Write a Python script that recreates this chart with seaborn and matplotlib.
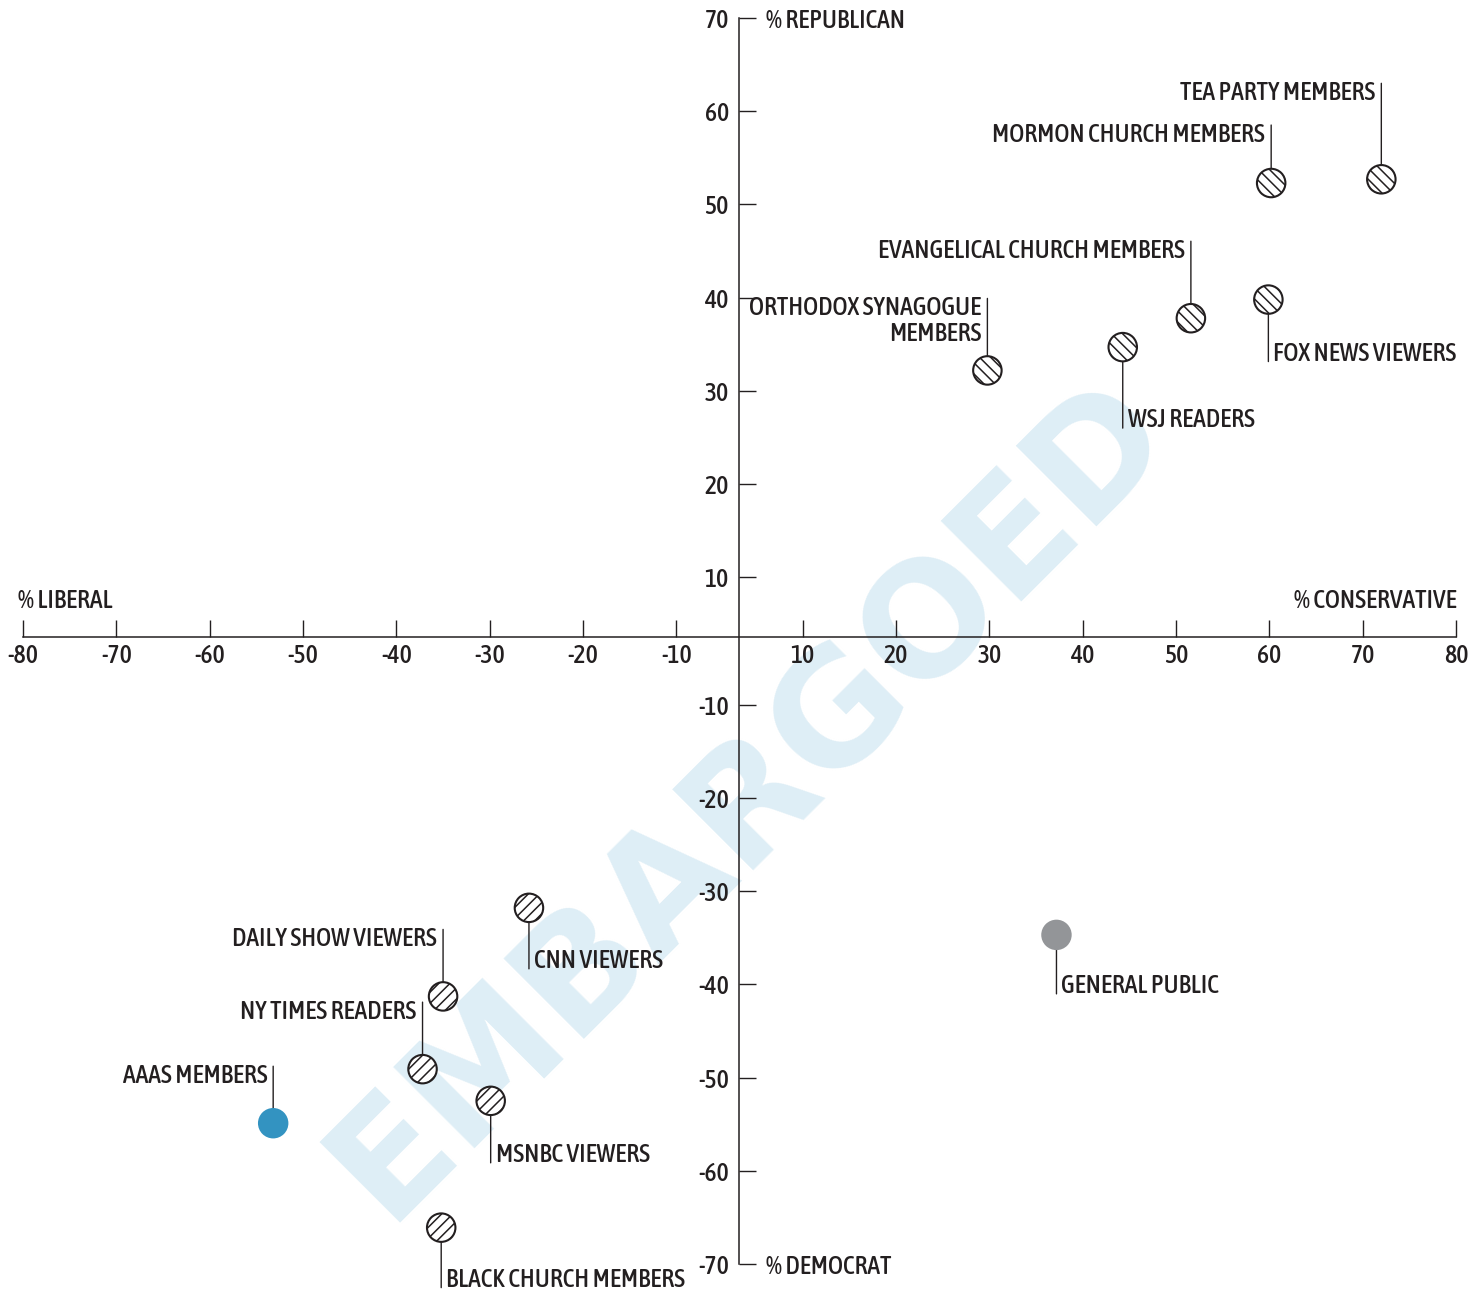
import numpy as np
import pandas as pd
import matplotlib
matplotlib.use("Agg")
import matplotlib.pyplot as plt
from matplotlib import font_manager as fm
import seaborn as sns

# groups, net ideology (% conservative - % liberal) and net party (% republican - % democrat)
groups = ["TEA PARTY MEMBERS", "MORMON CHURCH MEMBERS", "EVANGELICAL CHURCH MEMBERS",
          "ORTHODOX SYNAGOGUE\nMEMBERS", "FOX NEWS VIEWERS", "WSJ READERS",
          "CNN VIEWERS", "DAILY SHOW VIEWERS", "NY TIMES READERS", "MSNBC VIEWERS",
          "BLACK CHURCH MEMBERS", "AAAS MEMBERS", "GENERAL PUBLIC"]
ideology = [72.0, 60.2, 51.6, 29.8, 59.9, 44.3, -25.8, -35.0, -37.2, -29.9, -35.2, -53.2, 37.2]
party = [52.7, 52.3, 37.8, 32.2, 39.8, 34.7, -31.8, -41.3, -49.1, -52.5, -66.1, -54.9, -34.7]
kind = ["right"] * 6 + ["left"] * 5 + ["aaas", "public"]

x_ticks = [-80, -70, -60, -50, -40, -30, -20, -10, 10, 20, 30, 40, 50, 60, 70, 80]
y_ticks = [-70, -60, -50, -40, -30, -20, -10, 10, 20, 30, 40, 50, 60, 70]
x_tick_labels = [str(v) for v in x_ticks]
y_tick_labels = [str(v) for v in y_ticks]

# label layout: leader length in pixels (up is positive) and text side of the leader
lead = [96, 58, 77, 72, -62, -81, -61, 67, 67, -62, -60, 57, -59]
side = ["left", "left", "left", "left", "right", "right", "right",
        "left", "left", "right", "right", "left", "right"]

ink = "#231f20"
blue = "#3393c1"
grey = "#939598"
wm_color = "#deeef6"

sns.set_style("white")

# look for a condensed face among the installed fonts
narrow = None
best = None
for f in fm.fontManager.ttflist:
    st = str(f.stretch).lower()
    cond = ("condensed" in st) or ("Condensed" in f.name) or ("Narrow" in f.name)
    if not cond or f.style != "normal":
        continue
    try:
        w = int(f.weight)
    except (TypeError, ValueError):
        w = 400
    score = abs(w - 500) + (0 if "semi" not in st else 50) + (0 if "extra" not in st else 80)
    if best is None or score < best:
        best = score
        narrow = f

if narrow is not None:
    plt.rcParams["font.family"] = [narrow.name, "DejaVu Sans"]
    plt.rcParams["font.stretch"] = narrow.stretch
    plt.rcParams["font.weight"] = narrow.weight
    fs = 18.5
else:
    plt.rcParams["font.family"] = ["Roboto", "DejaVu Sans"]
    fs = 15
plt.rcParams["hatch.linewidth"] = 1.1
plt.rcParams["hatch.color"] = ink


# the axes squeeze the first 10 units on each side of zero
def squeeze(kp, kn):
    def fwd(v):
        v = np.asarray(v, dtype=float)
        return np.where(v >= 10, v - 10 + 10 * kp,
               np.where(v >= 0, v * kp,
               np.where(v >= -10, v * kn, v + 10 - 10 * kn)))

    def inv(u):
        u = np.asarray(u, dtype=float)
        return np.where(u >= 10 * kp, u + 10 - 10 * kp,
               np.where(u >= 0, u / kp,
               np.where(u >= -10 * kn, u / kn, u - 10 + 10 * kn)))
    return fwd, inv


df = pd.DataFrame({"group": groups, "ideology": ideology, "party": party, "kind": kind})

fig = plt.figure(figsize=(14.79, 12.93), dpi=100)
ax = fig.add_axes([23 / 1479, 29 / 1293, 1433 / 1479, 1246 / 1293])
ax.set_zorder(1)
ax.patch.set_visible(False)

sns.scatterplot(data=df[df["kind"] == "right"], x="ideology", y="party", s=420,
                color="white", edgecolor=ink, linewidth=1.5, hatch="\\\\\\", ax=ax, zorder=3)
sns.scatterplot(data=df[df["kind"] == "left"], x="ideology", y="party", s=420,
                color="white", edgecolor=ink, linewidth=1.5, hatch="///", ax=ax, zorder=3)
sns.scatterplot(data=df[df["kind"] == "aaas"], x="ideology", y="party", s=480,
                color=blue, edgecolor="none", linewidth=0, ax=ax, zorder=3)
sns.scatterplot(data=df[df["kind"] == "public"], x="ideology", y="party", s=480,
                color=grey, edgecolor="none", linewidth=0, ax=ax, zorder=3)

ax.set_xscale("function", functions=squeeze(0.686, 0.665))
ax.set_yscale("function", functions=squeeze(0.634, 0.73))
ax.set_xlim(-80, 80)
ax.set_ylim(-70, 70)
ax.set_xlabel("")
ax.set_ylabel("")

for s in ["top", "right"]:
    ax.spines[s].set_visible(False)
ax.spines["left"].set_position(("data", 0))
ax.spines["bottom"].set_position(("data", 0))
for s in ["left", "bottom"]:
    ax.spines[s].set_color(ink)
    ax.spines[s].set_linewidth(1.1)

ax.set_xticks(x_ticks)
ax.set_xticklabels(x_tick_labels)
ax.set_yticks(y_ticks)
ax.set_yticklabels(y_tick_labels)
ax.tick_params(axis="both", bottom=True, left=True, direction="in", length=12.5, width=1,
               colors=ink, labelsize=fs)
ax.tick_params(axis="x", pad=5)
ax.tick_params(axis="y", pad=7)

# leaders and labels
for i, row in df.iterrows():
    L = lead[i]
    ax.annotate("", xy=(row["ideology"], row["party"]), xytext=(0, L), textcoords="offset pixels",
                arrowprops=dict(arrowstyle="-", color=ink, lw=1.0, shrinkA=0, shrinkB=0),
                zorder=2, annotation_clip=False)
    dx = -6 if side[i] == "left" else 5
    ha = "right" if side[i] == "left" else "left"
    if L > 0:
        ax.annotate(row["group"], xy=(row["ideology"], row["party"]), xytext=(dx, L + 3),
                    textcoords="offset pixels", ha=ha, va="top", fontsize=fs, color=ink,
                    linespacing=1.05, multialignment="right", annotation_clip=False)
    else:
        ax.annotate(row["group"], xy=(row["ideology"], row["party"]), xytext=(dx, L + 1),
                    textcoords="offset pixels", ha=ha, va="baseline", fontsize=fs, color=ink,
                    annotation_clip=False)

# axis end labels
ax.annotate("% REPUBLICAN", xy=(0, 70), xytext=(27, 0), textcoords="offset pixels",
            ha="left", va="center_baseline", fontsize=fs, color=ink, annotation_clip=False)
ax.annotate("% DEMOCRAT", xy=(0, -70), xytext=(27, 0), textcoords="offset pixels",
            ha="left", va="center_baseline", fontsize=fs, color=ink, annotation_clip=False)
ax.annotate("% LIBERAL", xy=(-80, 0), xytext=(-5, 29), textcoords="offset pixels",
            ha="left", va="baseline", fontsize=fs, color=ink, annotation_clip=False)
ax.annotate("% CONSERVATIVE", xy=(80, 0), xytext=(1, 29), textcoords="offset pixels",
            ha="right", va="baseline", fontsize=fs, color=ink, annotation_clip=False)

# watermark
fig.text(750 / 1479, 1 - 798 / 1293, "EMBARGOED", rotation=45, rotation_mode="anchor",
         ha="center", va="center", fontsize=112, fontweight="bold", color=wm_color,
         family="DejaVu Sans", stretch="normal", zorder=0.5)

fig.savefig("out.png", dpi=100)
